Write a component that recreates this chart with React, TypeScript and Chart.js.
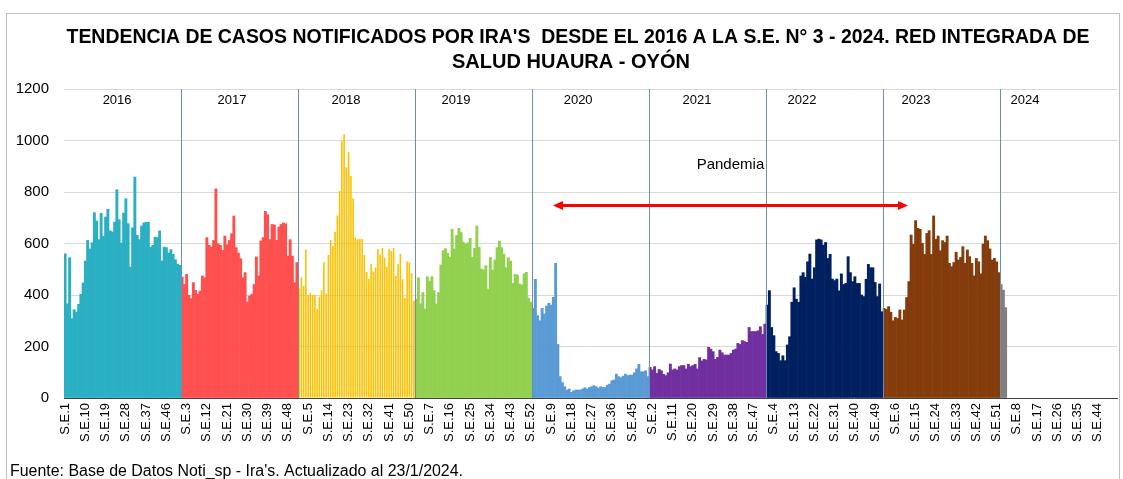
import React, { useEffect, useRef } from 'react';
import { Chart, registerables } from 'chart.js';

Chart.register(...registerables);

const years = [2016, 2017, 2018, 2019, 2020, 2021, 2022, 2023, 2024];
const weeksPerYear = 52;
const tickEvery = 9;

const cases2016 = [560, 366, 545, 308, 343, 334, 364, 403, 447, 532, 612, 579, 603, 720, 687, 615, 717, 628, 703, 733, 649, 645, 683, 809, 693, 602, 718, 774, 677, 509, 661, 858, 632, 615, 668, 680, 682, 683, 586, 593, 625, 623, 649, 532, 586, 584, 563, 576, 558, 537, 519, 515];
const cases2017 = [470, 441, 480, 399, 386, 448, 418, 403, 416, 474, 467, 623, 593, 586, 612, 812, 599, 593, 573, 629, 595, 612, 638, 707, 584, 563, 541, 467, 487, 373, 396, 403, 441, 548, 474, 610, 623, 725, 712, 615, 674, 672, 612, 664, 674, 680, 677, 551, 615, 551, 448, 526];
const cases2018 = [426, 469, 436, 577, 400, 408, 400, 400, 346, 394, 419, 527, 406, 555, 614, 590, 645, 709, 804, 999, 1025, 896, 955, 862, 775, 624, 617, 617, 617, 555, 489, 462, 519, 491, 506, 579, 555, 583, 544, 510, 579, 571, 583, 475, 520, 559, 461, 388, 531, 527, 485, 377];
const cases2019 = [384, 467, 366, 410, 346, 471, 454, 471, 417, 365, 410, 517, 572, 580, 562, 546, 655, 579, 631, 659, 643, 605, 598, 603, 620, 546, 581, 668, 585, 501, 498, 514, 423, 546, 497, 536, 584, 610, 584, 559, 506, 545, 532, 445, 480, 478, 443, 439, 482, 488, 388, 372];
const cases2020 = [348, 461, 320, 300, 348, 326, 357, 368, 361, 391, 523, 208, 83, 60, 44, 31, 35, 22, 28, 31, 31, 31, 35, 40, 35, 41, 44, 48, 44, 38, 44, 41, 41, 50, 54, 67, 70, 93, 83, 79, 85, 93, 87, 89, 89, 98, 113, 131, 102, 102, 106, 83];
const cases2021 = [119, 109, 122, 96, 111, 106, 92, 87, 98, 132, 109, 113, 109, 122, 126, 126, 113, 131, 122, 126, 131, 113, 157, 144, 150, 148, 197, 190, 180, 150, 158, 186, 176, 167, 167, 167, 173, 186, 190, 212, 208, 223, 219, 216, 274, 258, 258, 258, 261, 277, 247, 287];
const cases2022 = [361, 417, 274, 242, 180, 173, 145, 164, 145, 206, 238, 372, 428, 384, 372, 474, 487, 469, 529, 559, 462, 506, 614, 617, 614, 594, 604, 542, 558, 462, 456, 462, 416, 482, 441, 445, 549, 487, 452, 471, 445, 445, 400, 394, 461, 519, 506, 506, 449, 394, 443, 335];
const cases2023 = [348, 344, 355, 333, 300, 313, 309, 342, 303, 342, 390, 452, 633, 597, 689, 659, 655, 601, 558, 639, 650, 558, 707, 616, 629, 572, 611, 604, 629, 523, 510, 526, 566, 536, 546, 588, 523, 575, 549, 523, 474, 542, 529, 482, 598, 629, 611, 579, 536, 542, 529, 487];
const cases2024 = [441, 419, 351];

const seriesByYear = [cases2016, cases2017, cases2018, cases2019, cases2020, cases2021, cases2022, cases2023, cases2024];
const yearColors = ['#2BB0C3', '#FF5050', '#FFC000', '#92D050', '#5B9BD5', '#7030A0', '#002060', '#843C0C', '#7F7F7F'];

const yMin = 0;
const yMax = 1200;
const yStep = 200;

const titleLines = ["TENDENCIA DE CASOS NOTIFICADOS POR IRA'S  DESDE EL 2016 A LA S.E. N° 3 - 2024. RED INTEGRADA DE", 'SALUD HUAURA - OYÓN'];
const sourceNote = "Fuente: Base de Datos Noti_sp - Ira's. Actualizado al 23/1/2024.";

// annotation anchors in data coordinates (category index, value)
const yearLabelAt = [23.1, 74.2, 124.8, 173.7, 228, 280.8, 327.5, 378.2, 426.6];
const yearLabelValue = 1155;
const pandemicLabel = 'Pandemia';
const pandemicFrom = 216.8;
const pandemicTo = 374.6;
const pandemicValue = 750;
const pandemicLabelValue = 905;

const categories = years.flatMap(() => Array.from({ length: weeksPerYear }, (_, w) => `S.E.${w + 1}`));

const SANS = '"Liberation Sans", Arial, sans-serif';

function fitText(ctx: CanvasRenderingContext2D, text: string, cx: number, baseline: number, width: number, align: 'center' | 'left') {
  const w = ctx.measureText(text).width;
  ctx.save();
  ctx.textBaseline = 'alphabetic';
  ctx.textAlign = 'left';
  const sx = width / w;
  const x0 = align === 'center' ? cx - width / 2 : cx;
  ctx.translate(x0, baseline);
  ctx.scale(sx, 1);
  ctx.fillText(text, 0, 0);
  ctx.restore();
}

const decorPlugin = {
  id: 'decor',
  beforeDraw(chart: any) {
    const ctx = chart.ctx as CanvasRenderingContext2D;
    ctx.save();
    ctx.fillStyle = '#FFFFFF';
    ctx.fillRect(0, 0, chart.width, chart.height);
    ctx.strokeStyle = '#BFBFBF';
    ctx.lineWidth = 1;
    ctx.strokeRect(6.5, 13.5, 1113, 520);
    ctx.restore();
  },
  afterDatasetsDraw(chart: any) {
    const ctx = chart.ctx as CanvasRenderingContext2D;
    const xs = chart.scales.x;
    const ys = chart.scales.y;
    const area = chart.chartArea;
    ctx.save();
    // year separators
    ctx.strokeStyle = '#6A8EB5';
    ctx.lineWidth = 1;
    for (let k = 1; k < years.length; k++) {
      const x = Math.round(xs.getPixelForValue(k * weeksPerYear - 0.5)) + 0.5;
      ctx.beginPath();
      ctx.moveTo(x, area.top);
      ctx.lineTo(x, area.bottom);
      ctx.stroke();
    }
    // year labels
    ctx.fillStyle = '#000000';
    ctx.font = `13px ${SANS}`;
    ctx.textAlign = 'center';
    ctx.textBaseline = 'middle';
    years.forEach((y, k) => {
      ctx.fillText(String(y), xs.getPixelForValue(yearLabelAt[k]), ys.getPixelForValue(yearLabelValue));
    });
    // pandemic arrow
    const x1 = xs.getPixelForValue(pandemicFrom);
    const x2 = xs.getPixelForValue(pandemicTo);
    const yA = Math.round(ys.getPixelForValue(pandemicValue)) + 0.5;
    const head = 10;
    const hh = 4.5;
    ctx.strokeStyle = '#FF0000';
    ctx.fillStyle = '#FF0000';
    ctx.lineWidth = 3;
    ctx.beginPath();
    ctx.moveTo(x1 + head - 1, yA);
    ctx.lineTo(x2 - head + 1, yA);
    ctx.stroke();
    ctx.beginPath();
    ctx.moveTo(x1, yA);
    ctx.lineTo(x1 + head, yA - hh);
    ctx.lineTo(x1 + head, yA + hh);
    ctx.closePath();
    ctx.fill();
    ctx.beginPath();
    ctx.moveTo(x2, yA);
    ctx.lineTo(x2 - head, yA - hh);
    ctx.lineTo(x2 - head, yA + hh);
    ctx.closePath();
    ctx.fill();
    ctx.fillStyle = '#000000';
    ctx.font = `15px ${SANS}`;
    ctx.textAlign = 'center';
    ctx.textBaseline = 'middle';
    ctx.fillText(pandemicLabel, (x1 + x2) / 2, ys.getPixelForValue(pandemicLabelValue));
    ctx.restore();
  },
  afterDraw(chart: any) {
    const ctx = chart.ctx as CanvasRenderingContext2D;
    ctx.save();
    ctx.fillStyle = '#000000';
    ctx.font = `bold 21px ${SANS}`;
    fitText(ctx, titleLines[0], 578, 43, 1023, 'center');
    fitText(ctx, titleLines[1], 571, 68, 238, 'center');
    ctx.font = `16px ${SANS}`;
    fitText(ctx, sourceNote, 10, 476, 453, 'left');
    ctx.restore();
  },
};

export default function App() {
  const canvasRef = useRef<HTMLCanvasElement | null>(null);

  useEffect(() => {
    const canvas = canvasRef.current;
    if (!canvas) return;
    const datasets = years.map((yr, k) => ({
      label: String(yr),
      data: categories.map((_, i) => (Math.floor(i / weeksPerYear) === k ? seriesByYear[k][i % weeksPerYear] ?? null : null)),
      backgroundColor: yearColors[k],
      borderWidth: 0,
      grouped: false,
      barPercentage: yr === 2018 ? 0.72 : 1,
      categoryPercentage: 1,
    }));
    const chart = new Chart(canvas, {
      type: 'bar',
      data: { labels: categories, datasets },
      options: {
        responsive: false,
        animation: false,
        devicePixelRatio: 1,
        layout: { padding: { top: 89, right: 6, left: 0, bottom: 0 } },
        plugins: { legend: { display: false }, tooltip: { enabled: false }, title: { display: false } },
        scales: {
          x: {
            type: 'category',
            offset: true,
            grid: { display: false, drawTicks: false },
            border: { display: true, color: '#404040', width: 1 },
            ticks: {
              autoSkip: false,
              maxRotation: 90,
              minRotation: 90,
              padding: 5,
              color: '#000000',
              font: { family: SANS, size: 13 },
              callback: (_v: any, idx: number) => (idx % tickEvery === 0 ? categories[idx] : ''),
            },
            afterFit: (s: any) => {
              s.height = 81;
              s.paddingLeft = 0;
              s.paddingRight = 0;
            },
          },
          y: {
            min: yMin,
            max: yMax,
            grid: { color: '#D9D9D9', lineWidth: 1, drawTicks: false },
            border: { display: false },
            ticks: {
              stepSize: yStep,
              padding: 15,
              color: '#000000',
              font: { family: SANS, size: 15 },
              callback: (v: any) => String(v),
            },
            afterFit: (s: any) => {
              s.width = 64;
            },
          },
        },
      },
      plugins: [decorPlugin],
    } as any);
    return () => chart.destroy();
  }, []);

  return (
    <div style={{ position: 'fixed', left: 0, top: 0, width: 1123, height: 479, background: '#fff' }}>
      <canvas ref={canvasRef} width={1123} height={479} style={{ display: 'block', width: 1123, height: 479 }} />
    </div>
  );
}
